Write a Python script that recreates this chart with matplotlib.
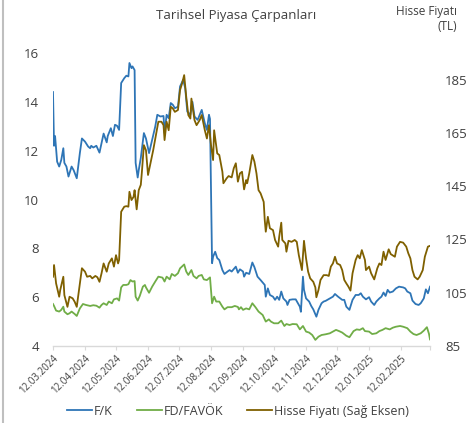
import matplotlib
matplotlib.use("Agg")
import matplotlib.pyplot as plt
import pandas as pd

start = pd.Timestamp("2024-03-12")

# day offsets from 12.03.2024 and values
fk_days = [0, 1, 2, 3, 4, 6, 8, 10, 11, 13, 15, 18, 20, 23, 26, 28, 31, 34, 36, 37, 39, 42, 45, 47, 49, 52, 53, 56, 58, 60, 62, 64,
           66, 69, 71, 73, 74, 76, 77, 79, 80, 82, 83, 85, 88, 90, 93, 96, 99, 101, 104, 107, 108, 110, 112, 114, 116, 118, 121,
           123, 126, 128, 130, 133, 135, 137, 140, 142, 144, 147, 149, 151, 152, 154, 155, 157, 159, 161, 164, 166, 169, 171, 173,
           177, 179, 181, 184, 185, 187, 190, 193, 195, 198, 201, 205, 206, 208, 210, 213, 215, 217, 219, 221, 223, 226, 227, 229,
           232, 235, 239, 240, 242, 243, 245, 248, 250, 252, 255, 257, 260, 262, 264, 268, 271, 273, 276, 280, 282, 284, 287, 290,
           293, 296, 298, 300, 303, 306, 308, 311, 313, 316, 318, 320, 322, 324, 326, 329, 332, 335, 339, 341, 343, 346, 348, 351,
           354, 356, 359, 361, 363, 365]
fk_vals = [14.4, 12.2, 12.6, 12.1, 11.55, 11.35, 11.62, 12.1, 11.5, 11.35, 10.94, 11.35, 11.2, 10.87, 11.9, 12.5, 12.37, 12.17,
           12.1, 12.2, 12.13, 12.2, 11.92, 12.3, 12.7, 12.34, 12.6, 12.92, 12.6, 13.06, 13.02, 12.85,
           14.77, 14.97, 15.07, 15.04, 15.59, 15.38, 15.45, 15.3, 11.5, 10.9, 11.2, 11.7, 12.72, 12.5, 11.9, 12.44, 12.99, 13.47,
           13.4, 13.42, 12.72, 13.47, 13.33, 13.95, 13.88, 13.74, 13.8,
           14.63, 14.9, 14.56, 13.6, 13.47, 14.0, 13.4, 13.26, 13.47, 13.67, 13.12, 12.85, 13.47, 13.3, 7.39, 7.66, 7.86, 7.6, 7.52,
           7.11, 6.95, 7.05, 7.11, 7.05,
           7.25, 7.0, 7.14, 7.05, 6.84, 7.0, 6.95, 7.42, 7.23, 6.84, 6.7, 6.5, 6.02, 6.36, 6.09, 6.02, 5.89, 6.02, 5.89, 6.23, 5.95,
           5.82, 5.68, 5.89,
           5.91, 5.91, 5.61, 5.4, 6.84, 6.3, 5.95, 5.82, 5.64, 5.5, 5.2, 5.48, 5.75, 5.82, 5.85, 5.95, 6.02, 6.13, 6.02, 5.89, 5.89,
           5.61, 5.48, 5.89,
           6.09, 6.09, 6.16, 6.02, 5.91, 6.0, 5.82, 5.68, 5.82, 5.95, 6.02, 6.19, 6.05, 6.3, 6.19, 6.23, 6.36, 6.43, 6.4, 6.36, 6.23,
           6.16, 5.86, 5.72,
           5.68, 5.75, 5.95, 6.32, 6.16, 6.43]

fd_days = [0, 1, 3, 6, 8, 10, 11, 14, 16, 18, 21, 23, 26, 29, 32, 36, 39, 42, 45, 47, 49, 52, 54, 57, 59, 62, 64, 66, 68, 71, 73,
           75, 77, 79, 80, 82, 84, 87, 89, 90, 93, 96, 99, 102, 106, 108, 110, 113, 115, 118, 121, 123, 127, 129, 131, 134, 136,
           139, 141, 144, 146, 149, 152, 153, 154, 156, 158, 161, 164, 166, 169, 173, 176, 179, 180, 182, 184, 187, 190, 193, 196,
           199, 203, 206, 209, 211, 214, 218, 221, 224, 226, 229, 232, 236, 239, 242, 245, 248, 251, 254, 257, 260, 264, 268, 271,
           274, 277, 280, 284, 287, 291, 294, 297, 300, 302, 306, 309, 313, 316, 319, 322, 326, 329, 332, 336, 339, 343, 346, 349,
           352, 356, 359, 362, 364, 365]
fd_vals = [5.72, 5.64, 5.45, 5.41, 5.48, 5.61, 5.41, 5.3, 5.34, 5.41, 5.31, 5.23, 5.54, 5.72, 5.68, 5.64, 5.67, 5.65, 5.57, 5.68,
           5.75, 5.68, 5.82, 5.75, 5.91, 5.95, 5.86, 6.4, 6.5, 6.5, 6.53,
           6.7, 6.64, 6.66, 6.02, 5.86, 6.05, 6.43, 6.5, 6.4, 6.18, 6.43, 6.64, 6.84, 6.8, 6.64, 6.84, 6.73, 6.95, 6.87, 6.98, 7.18,
           7.34, 7.05, 6.91, 7.11, 6.87,
           6.77, 6.87, 6.91, 6.73, 6.7, 6.81, 6.3, 5.75, 6.02, 5.82, 5.82, 5.61, 5.5, 5.59, 5.59, 5.64, 5.6, 5.5, 5.59, 5.48, 5.54,
           5.5, 5.75, 5.59,
           5.41, 5.27, 5.0, 5.09, 5.0, 4.93, 4.93, 5.04, 4.82, 4.9, 4.86, 4.9, 4.89, 4.68, 4.82, 4.59, 4.55, 4.45, 4.25, 4.38, 4.45,
           4.48, 4.52, 4.59,
           4.66, 4.61, 4.55, 4.42, 4.36, 4.61, 4.68, 4.66, 4.73, 4.61, 4.59, 4.49, 4.52, 4.61, 4.66, 4.73, 4.68, 4.75, 4.79, 4.82,
           4.79, 4.73, 4.59, 4.49,
           4.45, 4.52, 4.63, 4.77, 4.5, 4.27]

px_days = [0, 1, 3, 6, 7, 10, 11, 14, 16, 19, 21, 23, 26, 28, 31, 33, 36, 38, 41, 43, 45, 47, 49, 52, 54, 57, 59, 61, 63, 64, 66,
           69, 71, 73, 74, 76, 78, 79, 81, 83, 85, 86, 88, 90, 92, 95, 97, 100, 102, 105, 107, 108, 110, 112, 114, 116, 118, 121,
           123, 125, 127, 129, 131, 133, 134, 137, 139, 142, 144, 147, 149, 151, 153, 155, 156, 159, 161, 164, 165, 168, 170, 173,
           175, 177, 179, 181, 183, 185, 187, 188, 190, 193, 195, 197, 199, 201, 204, 205, 206, 208, 210, 213, 215, 218, 219, 221,
           222, 225, 226, 228, 231, 234, 236, 238, 241, 243, 245, 247, 249, 252, 254, 255, 257, 259, 262, 265, 267, 269, 271, 273,
           275, 278, 280, 282, 284, 286, 288, 290, 293, 295, 297, 299, 302, 303, 306, 308, 311, 314, 316, 318, 320, 322, 325, 327,
           331, 333, 336, 339, 342, 344, 346, 348, 350, 353, 355, 358, 360, 363, 365]
px_vals = [111.0, 115.4, 108.5, 103.5, 106.0, 111.0, 104.1, 99.7, 103.5, 102.9, 101.6, 99.7, 108.5, 114.2, 112.9, 111.0, 111.3,
           110.4, 111.3, 110.8, 109.1, 112.3, 116.0, 112.9, 116.0, 117.9, 114.8, 119.1, 116.0, 117.3, 135.4,
           137.3, 137.5, 137.3, 142.9, 139.8, 141.0, 143.5, 136.3, 143.5, 145.5, 150.0, 160.4, 158.5, 149.2, 154.8, 158.5, 164.8,
           169.2, 169.2, 167.9, 162.3, 169.2, 166.0, 174.8, 174.2, 172.9, 173.6,
           181.1, 183.6, 186.7, 178.5, 171.7, 170.4, 177.9, 169.8, 167.9, 169.8, 171.7, 166.0, 162.9, 167.9, 160.4, 154.8, 166.0,
           157.3, 156.7, 150.4, 146.1, 147.9, 148.8, 148.3,
           151.7, 153.6, 146.7, 149.8, 150.4, 143.8, 147.3, 146.1, 149.8, 156.7, 154.2, 149.8, 143.5, 142.3, 139.1, 132.3, 127.9,
           133.5, 129.2, 128.5, 124.8, 122.3, 126.0, 131.3,
           124.8, 123.5, 120.4, 124.5, 124.1, 124.8, 124.1, 119.1, 113.5, 124.5, 117.9, 112.9, 110.4, 109.1, 107.0, 103.3, 106.0,
           109.8, 111.6, 111.6, 111.3, 114.8, 116.0, 118.5,
           116.0, 115.4, 113.5, 109.8, 108.5, 107.3, 105.8, 112.3, 117.3, 119.1, 117.9, 121.0, 117.3, 113.5, 114.8, 112.3, 110.0,
           114.2, 116.0, 115.4, 120.4, 117.3, 121.3, 119.5,
           118.5, 122.3, 124.1, 123.8, 122.3, 119.8, 117.9, 113.5, 111.0, 110.0, 111.0, 113.5, 118.5, 122.3, 122.6]

left_ticks = [4, 6, 8, 10, 12, 14, 16]
right_ticks = [85, 105, 125, 145, 165, 185]
tick_dates = pd.date_range("2024-03-12", "2025-03-12", freq=pd.DateOffset(months=1))

C_FK = "#2E75B6"
C_FD = "#70AD47"
C_PX = "#7F6000"
TXT = "#404040"
FONT = ["Open Sans", "DejaVu Sans"]
plt.rcParams["font.family"] = FONT

fig = plt.figure(figsize=(4.69, 4.23), dpi=100)
W, H = 469, 423
ax = fig.add_axes([53 / W, 1 - 346 / H, (430 - 53) / W, (346 - 53) / H])
ax2 = ax.twinx()

def to_dates(days):
    return [start + pd.Timedelta(days=d) for d in days]

l1, = ax.plot(to_dates(fk_days), fk_vals, color=C_FK, lw=1.3, label="F/K")
l2, = ax.plot(to_dates(fd_days), fd_vals, color=C_FD, lw=1.3, label="FD/FAVÖK")
l3, = ax2.plot(to_dates(px_days), px_vals, color=C_PX, lw=1.3, label="Hisse Fiyatı (Sağ Eksen)")

ax.set_xlim(start, start + pd.Timedelta(days=365))
ax.set_ylim(4, 16)
ax2.set_ylim(85, 195)
ax.set_yticks(left_ticks)
ax2.set_yticks(right_ticks)
ax.set_xticks(tick_dates)
labels = [d.strftime("%d.%m.%Y") for d in tick_dates]
labels[-1] = ""
ax.set_xticklabels(labels, rotation=45, ha="right", rotation_mode="anchor", fontsize=7, color=TXT)

for a in (ax, ax2):
    for s in a.spines.values():
        s.set_visible(False)
ax.spines["bottom"].set_visible(True)
ax.spines["bottom"].set_color("#D9D9D9")
ax.spines["bottom"].set_linewidth(1.0)
ax.tick_params(axis="x", length=3, color="#D9D9D9", pad=2)
ax.tick_params(axis="y", length=0, pad=10, labelsize=9.5, labelcolor=TXT)
ax2.tick_params(axis="y", length=0, pad=11, labelsize=9.5, labelcolor=TXT)

fig.text(236 / W, 1 - 16 / H, "Tarihsel Piyasa Çarpanları", ha="center", va="center", fontsize=9.5, color=TXT)
fig.text(457 / W, 1 - 19 / H, "Hisse Fiyatı\n(TL)", ha="right", va="center", fontsize=8.5, color=TXT, linespacing=1.2)

fig.legend(handles=[l1, l2, l3], loc="center", bbox_to_anchor=(238 / W, 1 - 411 / H), ncol=3, frameon=False,
           fontsize=9, handlelength=2.0, handletextpad=0.15, columnspacing=1.9, labelcolor=TXT)

fig.add_artist(plt.Line2D([2.5 / W, 2.5 / W], [0, 1], transform=fig.transFigure, color="#BFBFBF", lw=1.5))

fig.savefig("out.png", dpi=100)
